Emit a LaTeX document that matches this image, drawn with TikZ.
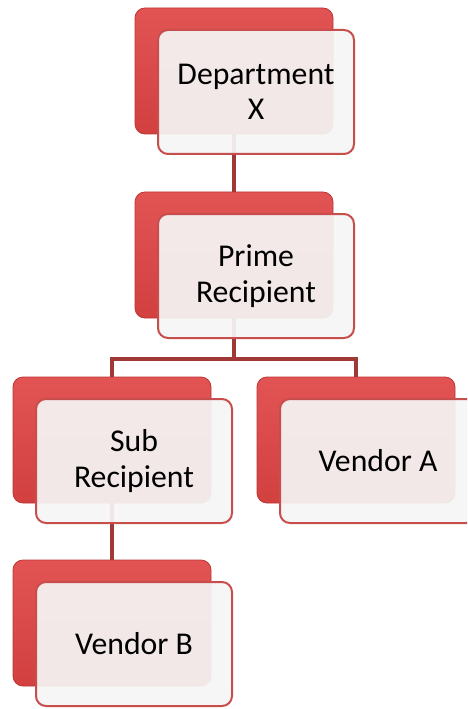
\documentclass[tikz,border=0pt]{standalone}
\usepackage{fontspec}
\setmainfont{Carlito}
\usetikzlibrary{positioning}
\definecolor{redtop}{RGB}{226,84,84}
\definecolor{redbot}{RGB}{210,64,64}
\definecolor{rededge}{RGB}{190,52,52}
\definecolor{framered}{RGB}{200,78,78}
\definecolor{linered}{RGB}{160,56,56}
\definecolor{palegray}{RGB}{245,245,245}
\begin{document}
\begin{tikzpicture}[x=0.75pt,y=-0.75pt,
    back/.style={draw=rededge,line width=0.6pt,rounded corners=7.5pt,minimum width=148.5pt,minimum height=94.5pt,inner sep=0pt,outer sep=0pt,top color=redtop,bottom color=redbot},
    front/.style={draw=framered,line width=1.5pt,fill=palegray,fill opacity=0.93,text opacity=1,rounded corners=7.5pt,minimum width=147pt,minimum height=93pt,inner sep=0pt,align=center,font=\fontsize{23.8}{26.5}\selectfont,xshift=16.5pt,yshift=-15.75pt},
    conn/.style={draw=linered,line width=3.5pt}]
      \useasboundingbox (0,0) rectangle (467,709);
      \clip (0,0) rectangle (467,709);

      \node[back] (dept) at (234,71) {};
      \node[back] (prime) at (234,255) {};
      \node[back] (sub) at (112,440) {};
      \node[back] (venA) at (356,440) {};
      \node[back] (venB) at (112,623) {};

      \draw[conn] (dept.south) -- (prime.north);
      \draw[conn] (prime.south) -- ++(0,41) -| (sub.north);
      \draw[conn] (prime.south) -- ++(0,41) -| (venA.north);
      \draw[conn] (sub.south) -- (venB.north);

      \node[front] (deptText) at (dept) {Department\\X};
      \node[front] (primeText) at (prime) {Prime\\Recipient};
      \node[front] (subText) at (sub) {Sub\\Recipient};
      \node[front] (venAText) at (venA) {Vendor A};
      \node[front] (venBText) at (venB) {Vendor B};
    \end{tikzpicture}
\end{document}
